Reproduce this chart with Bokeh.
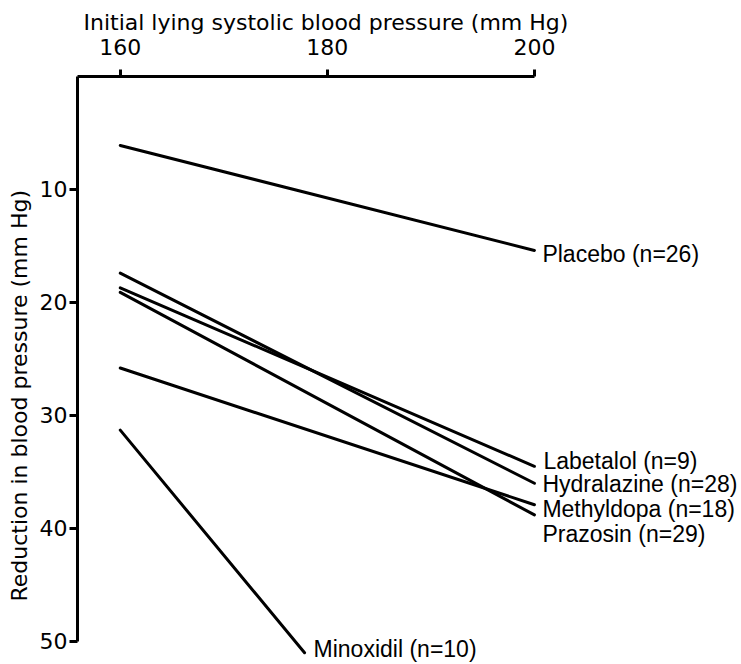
from bokeh.plotting import figure
from bokeh.models import Range1d, FixedTicker, Title, ColumnDataSource
from bokeh.core.properties import value
from bokeh.embed import file_html
from bokeh.resources import INLINE

# ---- data ----
treatments = ["Placebo", "Labetalol", "Hydralazine", "Methyldopa", "Prazosin", "Minoxidil"]
n_patients = [26, 9, 28, 18, 29, 10]
initial_sbp_start = [160, 160, 160, 160, 160, 160]
initial_sbp_end = [200, 200, 200, 200, 200, 177.8]
reduction_start = [6.1, 18.7, 17.4, 25.8, 19.1, 31.3]
reduction_end = [15.4, 34.5, 36.0, 37.9, 38.8, 51.0]
x_ticks = [160, 180, 200]
y_ticks = [10, 20, 30, 40, 50]

# ---- styling (screen offsets of the end labels, px) ----
label_dx = [8, 9, 8, 8, 8, 9]
label_dy = [3, -5, 1, 4, 19, -4]

FONT = "DejaVu Sans"
FS = "22px"
LABEL_FONT = "Liberation Sans"
LABEL_FS = "23px"

labels = [f"{t} (n={n})" for t, n in zip(treatments, n_patients)]
src = ColumnDataSource(dict(
    x0=initial_sbp_start, x1=initial_sbp_end,
    y0=reduction_start, y1=reduction_end,
    label=labels, dx=label_dx, dy=label_dy,
))

p = figure(width=741, height=664, output_backend="svg", toolbar_location=None,
           x_range=Range1d(155.87, 220.0), y_range=Range1d(52.04, 0),
           x_axis_location="above",
           min_border_left=74, min_border_top=76, min_border_right=0, min_border_bottom=0)
p.outline_line_color = None
p.xgrid.visible = False
p.ygrid.visible = False
p.background_fill_color = "white"
p.border_fill_color = "white"

p.segment(x0="x0", y0="y0", x1="x1", y1="y1", source=src,
          line_color="black", line_width=3, line_cap="round")
p.text(x="x1", y="y1", text="label", x_offset="dx", y_offset="dy", source=src,
       text_font=value(LABEL_FONT), text_font_size=LABEL_FS, text_align="left",
       text_baseline="middle", text_color="black")

for ax in (p.xaxis[0], p.yaxis[0]):
    ax.axis_line_color = "black"
    ax.axis_line_width = 3
    ax.major_tick_line_color = "black"
    ax.major_tick_line_width = 3
    ax.major_tick_in = 0
    ax.minor_tick_line_color = None
    ax.major_label_text_font = FONT
    ax.major_label_text_font_size = FS
    ax.major_label_text_color = "black"

xa = p.xaxis[0]
xa.ticker = FixedTicker(ticks=x_ticks)
xa.bounds = (155.87, 200)
xa.major_tick_out = 7
xa.major_label_standoff = 15

ya = p.yaxis[0]
ya.ticker = FixedTicker(ticks=y_ticks)
ya.bounds = (0, 50)
ya.major_tick_out = 8
ya.major_label_standoff = 2

p.add_layout(Title(text="Initial lying systolic blood pressure (mm Hg)", align="left",
                   offset=6, standoff=2, text_font=FONT, text_font_size=FS,
                   text_font_style="normal", text_color="black"), "above")
p.add_layout(Title(text="Reduction in blood pressure (mm Hg)", align="left",
                   offset=63, standoff=9, text_font=FONT, text_font_size=FS,
                   text_font_style="normal", text_color="black"), "left")

open("out.html", "w").write(file_html(p, INLINE))
